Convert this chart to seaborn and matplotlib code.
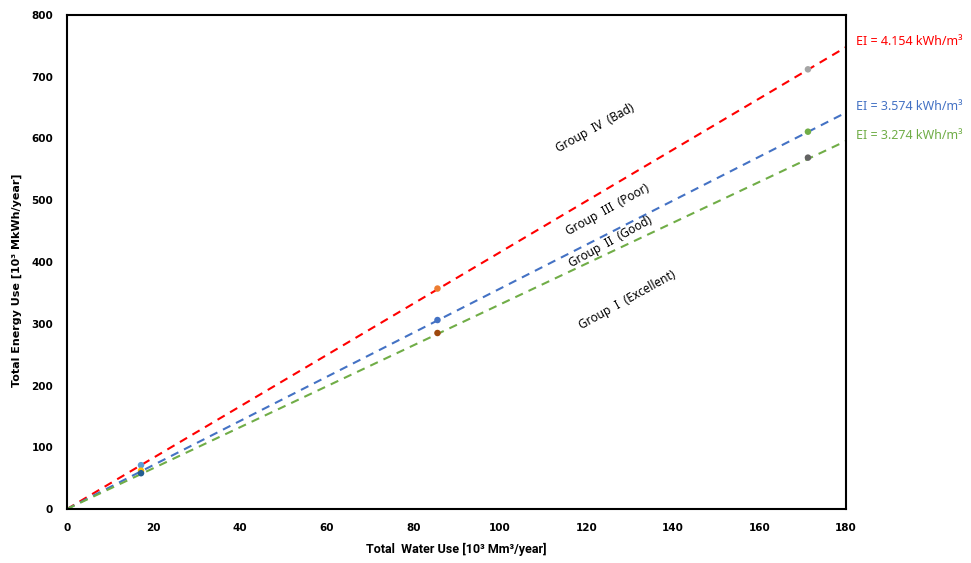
import numpy as np
import pandas as pd
import matplotlib.pyplot as plt
import seaborn as sns

sns.set_style("white")
plt.rcParams['font.family'] = ['Noto Sans', 'DejaVu Sans']
plt.rcParams['text.color'] = 'black'
plt.rcParams['axes.labelcolor'] = 'black'
plt.rcParams['xtick.color'] = 'black'
plt.rcParams['ytick.color'] = 'black'

# EI reference lines, start at origin, end values read at x = 180
ei_names = ["EI = 4.154 kWh/m³", "EI = 3.574 kWh/m³", "EI = 3.274 kWh/m³"]
ei_colors = ["#FF0000", "#4472C4", "#70AD47"]
line_x = [0, 180]
line_end = [748, 642, 596]

# observed points
water_use = [17.1, 17.1, 17.1, 85.6, 85.6, 85.6, 171.2, 171.2, 171.2]
energy_use = [71, 62, 58, 357, 306, 285, 712, 611, 569]
point_colors = ["#5B9BD5", "#FFC000", "#255E91", "#ED7D31", "#4472C4", "#9E480E",
                "#A5A5A5", "#70AD47", "#636363"]

group_labels = ["Group  IV  (Bad)", "Group  III  (Poor)", "Group  II  (Good)", "Group  I  (Excellent)"]
group_x = [122.0, 125.0, 125.6, 129.4]
group_y = [617, 484, 432, 338]

rows = []
for name, end in zip(ei_names, line_end):
    rows.append({"water": line_x[0], "energy": 0, "line": name})
    rows.append({"water": line_x[1], "energy": end, "line": name})
df_lines = pd.DataFrame(rows)
df_pts = pd.DataFrame({"water": water_use, "energy": energy_use,
                       "pt": [str(i) for i in range(len(water_use))]})

fig = plt.figure(figsize=(9.71, 5.63), dpi=100)
ax = fig.add_axes([0.069, 0.0959, 0.8023, 0.8775])

sns.lineplot(data=df_lines, x="water", y="energy", hue="line",
             palette=dict(zip(ei_names, ei_colors)), ax=ax, legend=False,
             linewidth=1.5)
for l in ax.get_lines():
    l.set_dashes([4, 3])

sns.scatterplot(data=df_pts, x="water", y="energy", hue="pt",
                palette=dict(zip(df_pts["pt"], point_colors)), ax=ax,
                legend=False, s=22, edgecolor="none", zorder=3)

ax.set_xlim(0, 180)
ax.set_ylim(0, 800)
ax.set_xticks(np.arange(0, 181, 20))
ax.set_yticks(np.arange(0, 801, 100))
ax.tick_params(axis="x", length=0, labelsize=7.5, pad=10)
ax.tick_params(axis="y", length=0, labelsize=7.5, pad=10)
for t in ax.get_xticklabels() + ax.get_yticklabels():
    t.set_fontweight("bold")
    t.set_family("DejaVu Sans")
for s in ax.spines.values():
    s.set_color("black")
    s.set_linewidth(1.5)

ax.set_xlabel("Total  Water Use [10³ Mm³/year]", fontsize=9, fontweight="bold",
              family=["Roboto", "DejaVu Sans"], labelpad=7)
ax.set_ylabel("Total Energy Use [10³ MkWh/year]", fontsize=8, fontweight="bold",
              family="DejaVu Sans")
ax.yaxis.set_label_coords(-0.058, 0.464)

for txt, x, y in zip(group_labels, group_x, group_y):
    ax.text(x, y, txt, rotation=29, ha="center", va="center", fontsize=8.5,
            rotation_mode="anchor")

for name, end, c in zip(ei_names, line_end, ei_colors):
    ax.annotate(name, xy=(180, end), xytext=(7, 4), textcoords="offset points",
                color=c, fontsize=9, ha="left", va="center", annotation_clip=False)

fig.savefig("out.png", dpi=100)
